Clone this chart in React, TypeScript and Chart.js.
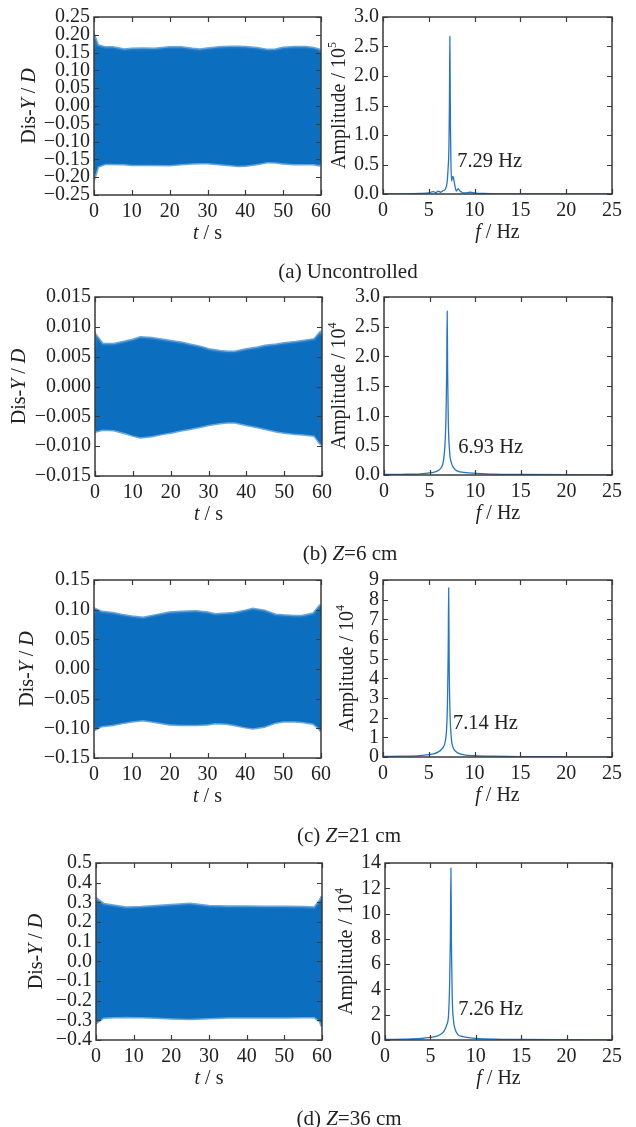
import React, { useEffect, useRef } from 'react';
import { Chart, registerables } from 'chart.js';

Chart.register(...registerables);

const FONT = "'Liberation Serif', 'Times New Roman', Times, serif";
const FILL = '#0B6EBE';
const EDGE = 'rgba(40,128,205,0.7)';
const LINE = '#2276C8';
const INK = '#222222';
const FRAME = '#3a3a3a';

// ---------- time histories: envelope of Dis-Y / D ----------
const timeA = [0, 0.3, 1, 3, 5, 8, 10, 13, 16, 20, 23, 26, 28, 30, 33, 36, 38, 40, 43, 46, 48, 50, 53, 56, 58, 59.5, 60];
const upperA = [0.16, 0.19, 0.17, 0.164, 0.164, 0.158, 0.16, 0.161, 0.16, 0.164, 0.164, 0.16, 0.158, 0.161, 0.164, 0.166, 0.166, 0.165, 0.162, 0.157, 0.158, 0.163, 0.165, 0.165, 0.162, 0.158, 0.15];
const lowerA = [-0.16, -0.195, -0.17, -0.162, -0.162, -0.163, -0.165, -0.165, -0.165, -0.166, -0.163, -0.161, -0.16, -0.16, -0.163, -0.166, -0.168, -0.167, -0.163, -0.157, -0.158, -0.161, -0.163, -0.163, -0.163, -0.166, -0.16];

const timeB = [0, 0.3, 2, 5, 8, 10, 12, 15, 18, 20, 23, 25, 28, 30, 33, 35, 37, 40, 43, 45, 48, 50, 53, 55, 58, 59.5, 60];
const upperB = [0.0065, 0.0085, 0.0071, 0.0071, 0.0075, 0.0078, 0.0082, 0.0081, 0.0078, 0.0076, 0.0073, 0.007, 0.0066, 0.0062, 0.0059, 0.0058, 0.0058, 0.0062, 0.0065, 0.0068, 0.007, 0.0072, 0.0074, 0.0076, 0.0079, 0.009, 0.0085];
const lowerB = [-0.0065, -0.0075, -0.0072, -0.0073, -0.0078, -0.0082, -0.0085, -0.0083, -0.0079, -0.0077, -0.0073, -0.0071, -0.0067, -0.0064, -0.0061, -0.006, -0.006, -0.0064, -0.0068, -0.0071, -0.0075, -0.0077, -0.0079, -0.008, -0.0082, -0.0095, -0.0098];

const timeC = [0, 0.3, 2, 5, 8, 10, 13, 16, 20, 23, 27, 30, 32, 35, 37, 40, 42, 45, 48, 50, 53, 55, 58, 59.5, 60];
const upperC = [0.09, 0.101, 0.096, 0.094, 0.09, 0.088, 0.086, 0.09, 0.095, 0.096, 0.097, 0.095, 0.092, 0.093, 0.094, 0.098, 0.101, 0.098, 0.091, 0.09, 0.089, 0.089, 0.093, 0.105, 0.108];
const lowerC = [-0.09, -0.102, -0.096, -0.094, -0.09, -0.088, -0.086, -0.089, -0.093, -0.094, -0.094, -0.093, -0.091, -0.092, -0.094, -0.098, -0.1, -0.097, -0.09, -0.088, -0.088, -0.089, -0.092, -0.1, -0.105];

const timeD = [0, 0.3, 2, 5, 8, 12, 16, 20, 25, 30, 35, 40, 45, 50, 55, 58, 59.5, 60];
const upperD = [0.29, 0.315, 0.29, 0.281, 0.273, 0.275, 0.28, 0.285, 0.292, 0.28, 0.278, 0.277, 0.276, 0.276, 0.275, 0.272, 0.31, 0.33];
const lowerD = [-0.29, -0.31, -0.285, -0.283, -0.282, -0.283, -0.286, -0.289, -0.292, -0.288, -0.284, -0.284, -0.284, -0.284, -0.283, -0.283, -0.305, -0.33];

// ---------- spectra ----------
const freqA = [0, 2, 3, 4, 5, 5.5, 5.8, 6.0, 6.3, 6.6, 6.8, 7.0, 7.1, 7.2, 7.25, 7.3, 7.36, 7.42, 7.5, 7.6, 7.7, 7.8, 7.9, 8.0, 8.2, 8.4, 8.6, 8.8, 9.0, 9.5, 10, 10.5, 11, 12, 13, 15, 20, 25];
const ampA = [0, 0, 0.005, 0.01, 0.02, 0.04, 0.02, 0.05, 0.03, 0.06, 0.08, 0.2, 0.42, 0.8, 1.5, 2.67, 1.2, 0.5, 0.22, 0.3, 0.27, 0.18, 0.1, 0.05, 0.09, 0.05, 0.03, 0.02, 0.02, 0.03, 0.02, 0.01, 0.01, 0.005, 0, 0, 0, 0];

const freqB = [0, 2, 4, 5, 5.5, 6, 6.3, 6.5, 6.7, 6.8, 6.88, 6.93, 6.98, 7.05, 7.2, 7.4, 7.6, 8, 9, 10, 12, 15, 20, 25];
const ampB = [0.01, 0.012, 0.02, 0.035, 0.05, 0.08, 0.13, 0.22, 0.55, 1.0, 1.8, 2.76, 1.7, 0.9, 0.38, 0.2, 0.13, 0.07, 0.04, 0.03, 0.015, 0.01, 0.005, 0.003];

const freqC = [0, 2, 4, 5, 5.5, 6, 6.5, 6.8, 6.95, 7.05, 7.12, 7.17, 7.22, 7.3, 7.45, 7.6, 7.8, 8.2, 9, 10, 12, 15, 20, 25];
const ampC = [0.03, 0.04, 0.07, 0.12, 0.16, 0.25, 0.45, 0.8, 1.5, 3.0, 5.5, 8.6, 5.0, 2.5, 1.0, 0.55, 0.35, 0.2, 0.1, 0.07, 0.04, 0.02, 0.01, 0.005];

const freqD = [0, 2, 4, 5, 5.5, 6, 6.5, 6.8, 7.0, 7.12, 7.2, 7.26, 7.32, 7.4, 7.55, 7.7, 8, 8.5, 9, 10, 12, 15, 20, 25];
const ampD = [0.05, 0.07, 0.12, 0.2, 0.26, 0.4, 0.7, 1.2, 2.0, 4.5, 8.0, 13.6, 7.5, 3.5, 1.5, 0.9, 0.45, 0.28, 0.2, 0.13, 0.07, 0.04, 0.02, 0.01];

// ---------- tick values ----------
const ticksTime = [0, 10, 20, 30, 40, 50, 60];
const ticksFreq = [0, 5, 10, 15, 20, 25];
const ticksDisA = [-0.25, -0.2, -0.15, -0.1, -0.05, 0, 0.05, 0.1, 0.15, 0.2, 0.25];
const ticksDisB = [-0.015, -0.01, -0.005, 0, 0.005, 0.01, 0.015];
const ticksDisC = [-0.15, -0.1, -0.05, 0, 0.05, 0.1, 0.15];
const ticksDisD = [-0.4, -0.3, -0.2, -0.1, 0, 0.1, 0.2, 0.3, 0.4, 0.5];
const ticksAmpA = [0, 0.5, 1, 1.5, 2, 2.5, 3];
const ticksAmpB = [0, 0.5, 1, 1.5, 2, 2.5, 3];
const ticksAmpC = [0, 1, 2, 3, 4, 5, 6, 7, 8, 9];
const ticksAmpD = [0, 2, 4, 6, 8, 10, 12, 14];

const peakLabels = ['7.29 Hz', '6.93 Hz', '7.14 Hz', '7.26 Hz'];
const peakLabelPos = [[8.1, 0.55], [8.14, 0.47], [7.64, 1.69], [8.06, 2.41]];
const exponents = ['5', '4', '4', '4'];

type Seg = { t: string; i?: boolean; sup?: boolean };

const PAD_L = 95;
const PAD_T = 15;
const PAD_R = 22;
const PAD_B = 60;

function drawRich(ctx: CanvasRenderingContext2D, segs: Seg[], x: number, y: number, size: number) {
  const fontFor = (s: Seg) => `${s.i ? 'italic ' : ''}${s.sup ? Math.round(size * 0.6) : size}px ${FONT}`;
  let total = 0;
  const widths = segs.map((s) => {
    ctx.font = fontFor(s);
    const w = ctx.measureText(s.t).width;
    total += w;
    return w;
  });
  let cx = x - total / 2;
  ctx.textAlign = 'left';
  ctx.textBaseline = 'middle';
  segs.forEach((s, k) => {
    ctx.font = fontFor(s);
    ctx.fillText(s.t, cx, s.sup ? y - size * 0.38 : y);
    cx += widths[k];
  });
}

const deco = {
  id: 'deco',
  afterDatasetsDraw(chart: any, _args: any, opts: any) {
    const { ctx, chartArea: a, scales } = chart;
    ctx.save();
    ctx.strokeStyle = FRAME;
    ctx.lineWidth = 1.2;
    ctx.beginPath();
    scales.x.ticks.forEach((t: any) => {
      const px = Math.round(scales.x.getPixelForValue(t.value)) + 0.5;
      ctx.moveTo(px, a.bottom);
      ctx.lineTo(px, a.bottom - 5);
      ctx.moveTo(px, a.top);
      ctx.lineTo(px, a.top + 5);
    });
    scales.y.ticks.forEach((t: any) => {
      const py = Math.round(scales.y.getPixelForValue(t.value)) + 0.5;
      ctx.moveTo(a.left, py);
      ctx.lineTo(a.left + 5, py);
      ctx.moveTo(a.right, py);
      ctx.lineTo(a.right - 5, py);
    });
    ctx.stroke();
    ctx.lineWidth = 1.5;
    ctx.strokeRect(a.left, a.top, a.right - a.left, a.bottom - a.top);

    ctx.fillStyle = INK;
    drawRich(ctx, opts.xTitle, (a.left + a.right) / 2, a.bottom + 39, 20);
    ctx.save();
    ctx.translate(opts.yTitleX, (a.top + a.bottom) / 2);
    ctx.rotate(-Math.PI / 2);
    drawRich(ctx, opts.yTitle, 0, 0, 20);
    ctx.restore();
    if (opts.note) {
      ctx.font = `20.5px ${FONT}`;
      ctx.textAlign = 'left';
      ctx.textBaseline = 'middle';
      ctx.fillText(opts.note.text, scales.x.getPixelForValue(opts.note.x), scales.y.getPixelForValue(opts.note.y));
    }
    ctx.restore();
  },
};

type PanelCfg = {
  kind: 'time' | 'freq';
  box: [number, number, number, number];
  xs: number[];
  ys: number[];
  ys2?: number[];
  xTicks: number[];
  yTicks: number[];
  dec: number;
  yTitleX: number;
  yTitle: Seg[];
  xTitle: Seg[];
  note?: { text: string; x: number; y: number };
};

const disTitle: Seg[] = [{ t: 'Dis-' }, { t: 'Y', i: true }, { t: ' / ' }, { t: 'D', i: true }];
const tTitle: Seg[] = [{ t: 't', i: true }, { t: ' / s' }];
const fTitle: Seg[] = [{ t: 'f', i: true }, { t: ' / Hz' }];
const ampTitle = (e: string): Seg[] => [{ t: 'Amplitude / 10' }, { t: e, sup: true }];

const panels: PanelCfg[] = [
  { kind: 'time', box: [94, 16, 321, 195], xs: timeA, ys: upperA, ys2: lowerA, xTicks: ticksTime, yTicks: ticksDisA, dec: 2, yTitleX: 30, yTitle: disTitle, xTitle: tTitle },
  { kind: 'freq', box: [383, 16, 612, 194], xs: freqA, ys: ampA, xTicks: ticksFreq, yTicks: ticksAmpA, dec: 1, yTitleX: 340, yTitle: ampTitle(exponents[0]), xTitle: fTitle, note: { text: peakLabels[0], x: peakLabelPos[0][0], y: peakLabelPos[0][1] } },
  { kind: 'time', box: [95, 296, 322, 476], xs: timeB, ys: upperB, ys2: lowerB, xTicks: ticksTime, yTicks: ticksDisB, dec: 3, yTitleX: 20, yTitle: disTitle, xTitle: tTitle },
  { kind: 'freq', box: [384, 296, 612, 475], xs: freqB, ys: ampB, xTicks: ticksFreq, yTicks: ticksAmpB, dec: 1, yTitleX: 340, yTitle: ampTitle(exponents[1]), xTitle: fTitle, note: { text: peakLabels[1], x: peakLabelPos[1][0], y: peakLabelPos[1][1] } },
  { kind: 'time', box: [94, 579, 321, 758], xs: timeC, ys: upperC, ys2: lowerC, xTicks: ticksTime, yTicks: ticksDisC, dec: 2, yTitleX: 28, yTitle: disTitle, xTitle: tTitle },
  { kind: 'freq', box: [383, 579, 612, 757], xs: freqC, ys: ampC, xTicks: ticksFreq, yTicks: ticksAmpC, dec: 0, yTitleX: 348, yTitle: ampTitle(exponents[2]), xTitle: fTitle, note: { text: peakLabels[2], x: peakLabelPos[2][0], y: peakLabelPos[2][1] } },
  { kind: 'time', box: [96, 862, 322, 1040], xs: timeD, ys: upperD, ys2: lowerD, xTicks: ticksTime, yTicks: ticksDisD, dec: 1, yTitleX: 37, yTitle: disTitle, xTitle: tTitle },
  { kind: 'freq', box: [385, 862, 612, 1040], xs: freqD, ys: ampD, xTicks: ticksFreq, yTicks: ticksAmpD, dec: 0, yTitleX: 347, yTitle: ampTitle(exponents[3]), xTitle: fTitle, note: { text: peakLabels[3], x: peakLabelPos[3][0], y: peakLabelPos[3][1] } },
];

function fmt(v: number, dec: number) {
  const n = Math.abs(v) < 1e-12 ? 0 : v;
  return n.toFixed(dec).replace('-', '\u2212');
}

function Panel({ cfg }: { cfg: PanelCfg }) {
  const ref = useRef<HTMLCanvasElement>(null);
  const [l, t, r, b] = cfg.box;
  const width = r - l + PAD_L + PAD_R;
  const height = b - t + PAD_T + PAD_B;
  const canvasLeft = l - PAD_L;
  const canvasTop = t - PAD_T;

  useEffect(() => {
    if (!ref.current) return;
    const pts = (ys: number[]) => ys.map((y, i) => ({ x: cfg.xs[i], y }));
    const datasets: any[] =
      cfg.kind === 'time'
        ? [
            { data: pts(cfg.ys), borderColor: EDGE, borderWidth: 3, backgroundColor: FILL, fill: '+1', pointRadius: 0, tension: 0 },
            { data: pts(cfg.ys2 as number[]), borderColor: EDGE, borderWidth: 3, fill: false, pointRadius: 0, tension: 0 },
          ]
        : [
            { data: pts(cfg.ys), borderColor: LINE, borderWidth: 1.3, fill: false, pointRadius: 0, cubicInterpolationMode: 'monotone' },
          ];
    const xT = cfg.xTicks;
    const yT = cfg.yTicks;
    const chart = new Chart(ref.current, {
      type: 'line',
      data: { datasets },
      plugins: [deco],
      options: {
        animation: false,
        responsive: false,
        layout: { padding: { top: PAD_T, right: PAD_R, left: 0, bottom: 0 } },
        plugins: {
          legend: { display: false },
          tooltip: { enabled: false },
          deco: { xTitle: cfg.xTitle, yTitle: cfg.yTitle, yTitleX: cfg.yTitleX - canvasLeft, note: cfg.note },
        } as any,
        scales: {
          x: {
            type: 'linear',
            min: xT[0],
            max: xT[xT.length - 1],
            afterBuildTicks: (s: any) => { s.ticks = xT.map((v) => ({ value: v })); },
            afterFit: (s: any) => { s.height = PAD_B; },
            grid: { display: false, drawTicks: false },
            border: { display: false },
            ticks: { autoSkip: false, maxRotation: 0, minRotation: 0, padding: 5, color: INK, font: { family: FONT, size: 20 }, callback: (v: any) => String(v) },
          },
          y: {
            type: 'linear',
            min: yT[0],
            max: yT[yT.length - 1],
            afterBuildTicks: (s: any) => { s.ticks = yT.map((v) => ({ value: v })); },
            afterFit: (s: any) => { s.width = PAD_L; },
            grid: { display: false, drawTicks: false },
            border: { display: false },
            ticks: { autoSkip: false, padding: 4, color: INK, font: { family: FONT, size: 20 }, callback: (v: any) => fmt(Number(v), cfg.dec) },
          },
        },
      } as any,
    });
    return () => chart.destroy();
  }, []);

  return (
    <canvas
      ref={ref}
      width={width}
      height={height}
      style={{ position: 'absolute', left: canvasLeft, top: canvasTop, width, height }}
    />
  );
}

const captionStyle = (x: number, y: number): React.CSSProperties => ({
  position: 'absolute',
  left: x,
  top: y,
  transform: 'translate(-50%, -50%)',
  fontFamily: FONT,
  fontSize: 21,
  lineHeight: 1,
  color: INK,
  whiteSpace: 'nowrap',
});

export default function App() {
  return (
    <div style={{ position: 'absolute', left: 0, top: 0, width: 636, height: 1127, background: '#fff', overflow: 'hidden' }}>
      {panels.map((p, i) => (
        <Panel key={i} cfg={p} />
      ))}
      <div style={captionStyle(348, 271)}>(a) Uncontrolled</div>
      <div style={captionStyle(350, 553)}>(b) <i>Z</i>=6 cm</div>
      <div style={captionStyle(349, 835)}>(c) <i>Z</i>=21 cm</div>
      <div style={captionStyle(349, 1118)}>(d) <i>Z</i>=36 cm</div>
    </div>
  );
}
